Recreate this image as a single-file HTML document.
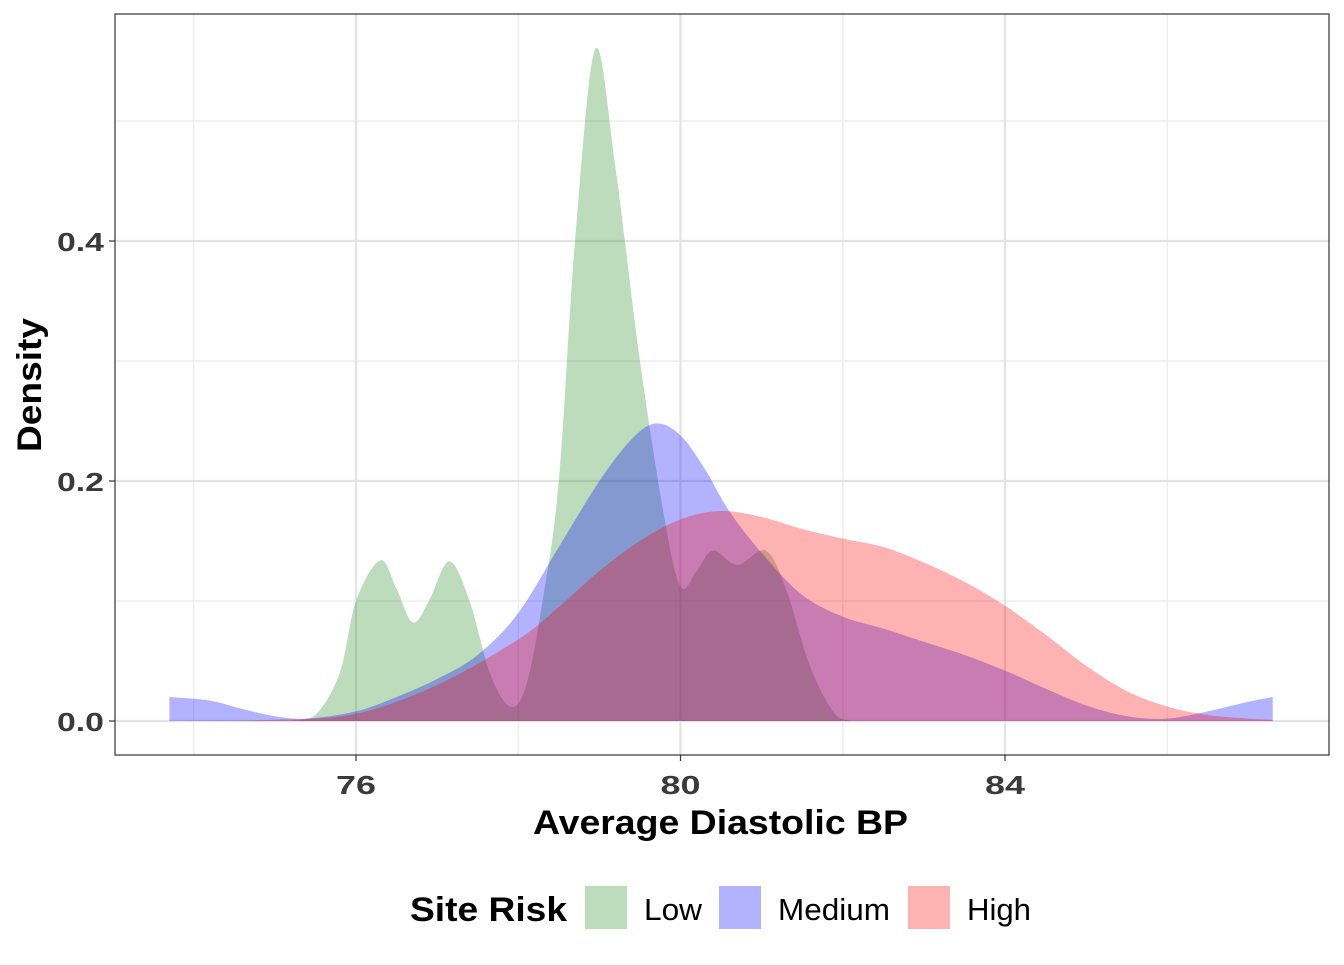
<!DOCTYPE html>
<html><head><meta charset="utf-8"><style>
body{margin:0;background:#fff;font-family:"Liberation Sans",Arial,sans-serif}
</style></head><body>
<svg id="chart" width="1344" height="960" xmlns="http://www.w3.org/2000/svg" font-family="Liberation Sans, Arial, sans-serif"></svg>
<script>
const lowX=[75.2,75.5,75.8,76.0,76.3,76.5,76.7,76.9,77.15,77.4,77.65,77.9,78.1,78.3,78.5,78.7,78.95,79.2,79.5,79.8,80.0,80.2,80.4,80.7,81.05,81.3,81.6,81.9,82.1];
const lowY=[0,0.005,0.04,0.1,0.134,0.11,0.082,0.1,0.133,0.1,0.04,0.012,0.03,0.1,0.2,0.4,0.56,0.46,0.3,0.17,0.112,0.125,0.142,0.13,0.142,0.11,0.045,0.006,0];
const medX=[73.7,74.2,74.6,75.0,75.4,76.0,76.5,77.0,77.5,78.0,78.5,79.0,79.4,79.7,80.0,80.3,80.6,81.0,81.5,82.0,82.5,83.0,83.5,84.0,84.5,85.0,85.5,86.0,86.5,87.0,87.3];
const medY=[0.02,0.017,0.01,0.004,0.002,0.008,0.02,0.035,0.055,0.09,0.145,0.2,0.235,0.248,0.238,0.21,0.175,0.14,0.105,0.087,0.077,0.066,0.055,0.042,0.027,0.013,0.004,0.002,0.008,0.016,0.02];
const highX=[73.7,75.0,76.0,77.0,78.0,78.5,79.0,79.5,80.0,80.5,81.0,81.5,82.0,82.5,83.0,83.5,84.0,84.5,85.0,85.5,86.0,86.5,87.0,87.3];
const highY=[0,0.001,0.006,0.03,0.068,0.095,0.125,0.15,0.168,0.175,0.17,0.16,0.152,0.145,0.132,0.116,0.096,0.072,0.046,0.025,0.012,0.005,0.002,0.001];
const xTicks=[76,80,84], xMinor=[74,78,82,86];
const yTicks=[0,0.2,0.4], yMinor=[0.1,0.3,0.5];
const yTickLabels=["0.0","0.2","0.4"];
const NS="http://www.w3.org/2000/svg", svg=document.getElementById('chart');
const L=115,R=1329,T=14,B=755;
const sx=v=>356+(v-76)*81.125, sy=v=>721-v*1200;
function el(t,a,p){const e=document.createElementNS(NS,t);for(const k in a)e.setAttribute(k,a[k]);(p||svg).appendChild(e);return e;}
const bg=el('rect',{x:L,y:T,width:R-L,height:B-T,fill:'#fff'});

xMinor.forEach(v=>{const g=el('line',{x1:sx(v),x2:sx(v),y1:T,y2:B,stroke:'#ebebeb','stroke-width':1.2});});
yMinor.forEach(v=>{const g=el('line',{x1:L,x2:R,y1:sy(v),y2:sy(v),stroke:'#ebebeb','stroke-width':1.2});});
xTicks.forEach(v=>{const g=el('line',{x1:sx(v),x2:sx(v),y1:T,y2:B,stroke:'#e3e3e3','stroke-width':2.2});});
yTicks.forEach(v=>{const g=el('line',{x1:L,x2:R,y1:sy(v),y2:sy(v),stroke:'#e3e3e3','stroke-width':2.2});});
function path(xs,ys){const p=xs.map((x,i)=>[sx(x),sy(ys[i])]);let d=`M${p[0][0]},${sy(0)}L${p[0][0]},${p[0][1]}`;
for(let i=0;i<p.length-1;i++){const p0=p[i-1]||p[i],p1=p[i],p2=p[i+1],p3=p[i+2]||p2;
let c1y=p1[1]+(p2[1]-p0[1])/6,c2y=p2[1]-(p3[1]-p1[1])/6;c1y=Math.min(c1y,sy(0));c2y=Math.min(c2y,sy(0));
d+=`C${p1[0]+(p2[0]-p0[0])/6},${c1y} ${p2[0]-(p3[0]-p1[0])/6},${c2y} ${p2[0]},${p2[1]}`;}
return d+`L${p[p.length-1][0]},${sy(0)}Z`;}
[[lowX,lowY,'rgba(34,139,34,0.3)','density-low'],[medX,medY,'rgba(0,0,255,0.3)','density-medium'],[highX,highY,'rgba(255,0,0,0.3)','density-high']].forEach(s=>{
const e=el('path',{d:path(s[0],s[1]),fill:s[2]});});
const fr=el('rect',{x:L,y:T,width:R-L,height:B-T,fill:'none',stroke:'#333','stroke-width':1.2});

xTicks.forEach(v=>{const t=el('line',{x1:sx(v),x2:sx(v),y1:B,y2:B+6,stroke:'#333','stroke-width':1.2});
const l=el('text',{x:sx(v),y:794,'text-anchor':'middle','font-size':26,'font-weight':'bold',fill:'#3a3a3a',textLength:40,lengthAdjust:'spacingAndGlyphs'});l.textContent=v;});
yTicks.forEach((v,i)=>{const t=el('line',{x1:L-6,x2:L,y1:sy(v),y2:sy(v),stroke:'#333','stroke-width':1.2});
const l=el('text',{x:104,y:sy(v)+10,'text-anchor':'end','font-size':26,'font-weight':'bold',fill:'#3a3a3a',textLength:47,lengthAdjust:'spacingAndGlyphs'});l.textContent=yTickLabels[i];});
const xt=el('text',{x:533,y:834,'font-size':34,'font-weight':'bold',fill:'#000',textLength:375,lengthAdjust:'spacingAndGlyphs'});xt.textContent='Average Diastolic BP';
const yt=el('text',{x:0,y:0,'font-size':34,'font-weight':'bold',fill:'#000',transform:'translate(41,452) rotate(-90)',textLength:134,lengthAdjust:'spacingAndGlyphs'});yt.textContent='Density';
const lt=el('text',{x:410,y:921,'font-size':34,'font-weight':'bold',fill:'#000',textLength:157,lengthAdjust:'spacingAndGlyphs'});lt.textContent='Site Risk';
[[585,644,'Low','rgba(34,139,34,0.3)',58],[719,778,'Medium','rgba(0,0,255,0.3)',112],[908,967,'High','rgba(255,0,0,0.3)',64]].forEach(k=>{
const r=el('rect',{x:k[0],y:886,width:42,height:43,fill:k[3]});
const t=el('text',{x:k[1],y:920,'font-size':31,fill:'#000',textLength:k[4],lengthAdjust:'spacingAndGlyphs'});t.textContent=k[2];});
</script>
</body></html>
